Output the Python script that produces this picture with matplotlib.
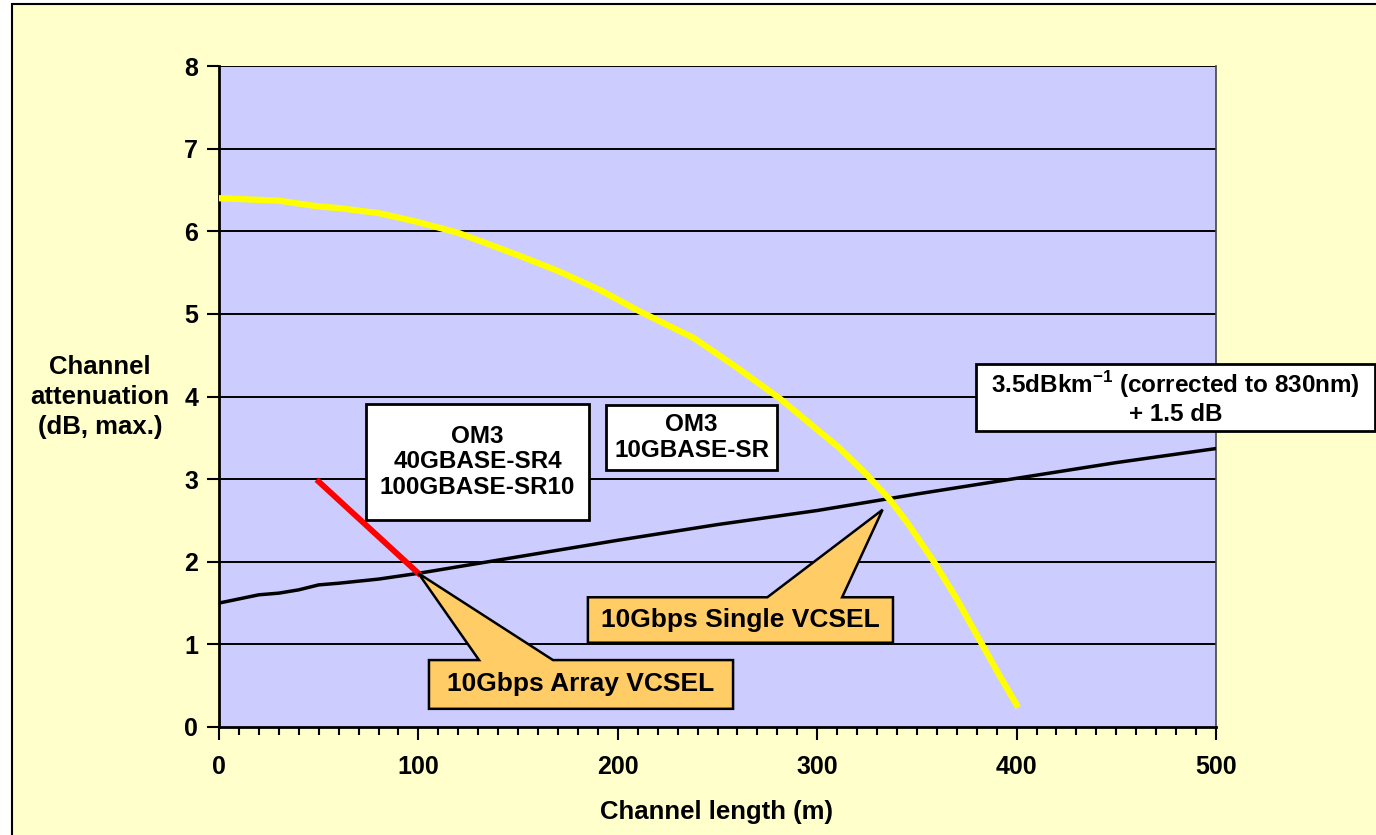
import matplotlib.pyplot as plt
from matplotlib.patches import Rectangle, Polygon
from matplotlib.ticker import MultipleLocator

plt.rcParams['font.family'] = ['Liberation Sans', 'DejaVu Sans']
plt.rcParams['font.weight'] = 'bold'
plt.rcParams['mathtext.fontset'] = 'custom'
plt.rcParams['mathtext.rm'] = 'Liberation Sans:bold'
plt.rcParams['mathtext.bf'] = 'Liberation Sans:bold'

# black line: 3.5 dB/km (corrected to 830nm) + 1.5 dB
black_x = [0, 10, 20, 30, 40, 50, 60, 80, 100, 150, 200, 250, 300, 350, 400, 450, 500]
black_y = [1.5, 1.55, 1.6, 1.62, 1.66, 1.72, 1.74, 1.79, 1.86, 2.06, 2.26, 2.45, 2.62, 2.82, 3.01, 3.2, 3.37]

# yellow curve: 10GBASE-SR single VCSEL
yellow_x = [0, 10, 30, 50, 60, 80, 100, 120, 150, 170, 191, 211, 238, 258, 281,
            300, 311, 325, 336.5, 345, 358, 370, 381.5, 392, 400]
yellow_y = [6.4, 6.39, 6.37, 6.3, 6.28, 6.22, 6.11, 5.98, 5.71, 5.52, 5.29, 5.03, 4.71, 4.38, 3.98,
            3.6, 3.38, 3.05, 2.75, 2.48, 2.02, 1.55, 1.05, 0.6, 0.27]

# red line: 40/100GBASE array VCSEL
red_x = [50, 100]
red_y = [2.97, 1.86]

fig = plt.figure(figsize=(13.76, 8.35), dpi=100)
fig.patch.set_facecolor('white')
fig.patches.append(Rectangle((12 / 1376, -0.02), 1.0, 1 - 4 / 835 + 0.02,
                             transform=fig.transFigure, facecolor='#FFFFCC',
                             edgecolor='black', linewidth=1.5, zorder=-5))

ax = fig.add_axes([219 / 1376, 1 - 727 / 835, 997 / 1376, 661 / 835])
ax.set_facecolor('#CCCCFF')
ax.set_xlim(0, 500)
ax.set_ylim(0, 8)

for v in range(1, 9):
    ax.axhline(v, color='black', lw=1.4, zorder=1)

ax.plot(black_x, black_y, color='black', lw=2.5, zorder=3)
ax.plot(yellow_x, yellow_y, color='#FFFF00', lw=4.5, zorder=3, solid_joinstyle='round')
ax.plot(red_x, red_y, color='#FF0000', lw=4.2, zorder=4)

ax.xaxis.set_major_locator(MultipleLocator(100))
ax.xaxis.set_minor_locator(MultipleLocator(10))
ax.yaxis.set_major_locator(MultipleLocator(1))
ax.tick_params(axis='both', which='major', labelsize=18, width=1.5, length=9, direction='out')
ax.tick_params(axis='x', which='minor', width=1.5, length=6, direction='out')
ax.tick_params(axis='x', which='major', pad=11)
ax.tick_params(axis='y', which='major', pad=6)
for lbl in ax.get_xticklabels() + ax.get_yticklabels():
    lbl.set_fontweight('bold')

ax.spines['left'].set_linewidth(2)
ax.spines['bottom'].set_linewidth(2)
ax.spines['top'].set_visible(False)
ax.spines['right'].set_color('#444444')
ax.spines['right'].set_linewidth(1.2)

fig.text(717 / 1376, 1 - 812 / 835, 'Channel length (m)', ha='center', va='center',
         fontsize=18.5, fontweight='bold')
fig.text(100 / 1376, 1 - 397 / 835, 'Channel\nattenuation\n(dB, max.)', ha='center',
         va='center', fontsize=18.5, fontweight='bold', linespacing=1.3)


def box(x0, x1, y0, y1, text, size):
    ax.add_patch(Rectangle((x0, y0), x1 - x0, y1 - y0, facecolor='white',
                           edgecolor='black', lw=2, zorder=5, clip_on=False))
    ax.text((x0 + x1) / 2, (y0 + y1) / 2, text, ha='center', va='center',
            fontsize=size, fontweight='bold', zorder=6, linespacing=1.15, clip_on=False)


box(73.8, 185.6, 2.51, 3.91, 'OM3\n40GBASE-SR4\n100GBASE-SR10', 17.5)
box(194, 280, 3.11, 3.90, 'OM3\n10GBASE-SR', 17.5)
box(379.6, 579.7, 3.58, 4.39, '3.5dBkm$^{-1}$ (corrected to 830nm)\n+ 1.5 dB', 17.5)


def callout(x0, x1, y0, y1, w0, w1, tip, text):
    pts = [(x0, y0), (x1, y0), (x1, y1), (w1, y1), tip, (w0, y1), (x0, y1)]
    ax.add_patch(Polygon(pts, closed=True, facecolor='#FFCC66', edgecolor='black',
                         lw=1.8, zorder=5, clip_on=False))
    ax.text((x0 + x1) / 2, (y0 + y1) / 2, text, ha='center', va='center',
            fontsize=19, fontweight='bold', zorder=6)


callout(105.3, 257.8, 0.22, 0.81, 130.4, 167.5, (100, 1.86), '10Gbps Array VCSEL')
callout(185, 338, 1.02, 1.57, 275, 312.5, (332.8, 2.63), '10Gbps Single VCSEL')

fig.savefig('out.png', dpi=100, facecolor=fig.get_facecolor())
